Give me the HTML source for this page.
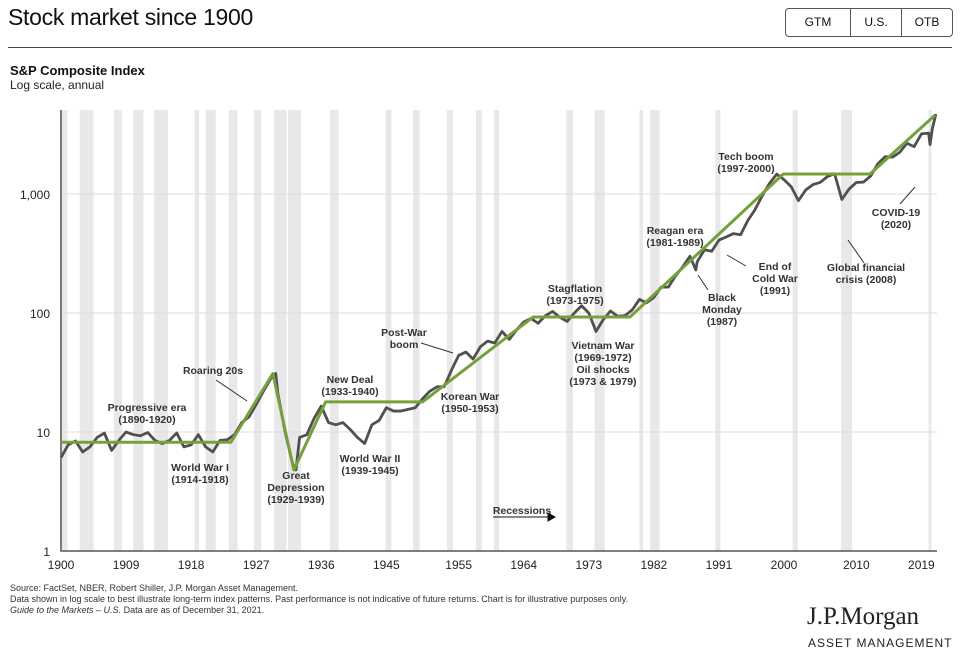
<!DOCTYPE html>
<html><head><meta charset="utf-8">
<style>
body{margin:0;background:#fff;font-family:"Liberation Sans",Arial,sans-serif;}
#wrap{position:relative;width:960px;height:662px;overflow:hidden;background:#fff}
.t{position:absolute;white-space:nowrap}
</style></head>
<body>
<div id="wrap">
<div class="t" style="left:8px;top:4px;font-size:23px;color:#111;letter-spacing:-0.3px">Stock market since 1900</div>
<div style="position:absolute;left:785px;top:8px;width:166px;height:27px;border:1px solid #555;border-radius:4px;display:flex;font-size:12px;color:#111">
<div style="width:64px;text-align:center;line-height:27px;border-right:1px solid #555">GTM</div>
<div style="width:50px;text-align:center;line-height:27px;border-right:1px solid #555">U.S.</div>
<div style="flex:1;text-align:center;line-height:27px">OTB</div>
</div>
<div style="position:absolute;left:8px;top:47px;width:944px;height:1px;background:#444"></div>
<div class="t" style="left:10px;top:63px;font-size:13px;font-weight:bold;color:#111">S&amp;P Composite Index</div>
<div class="t" style="left:10px;top:78px;font-size:12px;color:#222">Log scale, annual</div>
<svg id="chart" width="960" height="662" style="position:absolute;left:0;top:0" font-family="Liberation Sans, Arial, sans-serif"></svg>
<div class="t" style="left:10px;top:583px;font-size:9px;color:#333;line-height:11px">Source: FactSet, NBER, Robert Shiller, J.P. Morgan Asset Management.<br>Data shown in log scale to best illustrate long-term index patterns. Past performance is not indicative of future returns. Chart is for illustrative purposes only.<br><i>Guide to the Markets – U.S.</i> Data are as of December 31, 2021.</div>
<div class="t" style="left:807px;top:603px;font-family:'Liberation Serif',serif;font-size:25px;color:#222">J.P.Morgan</div>
<div class="t" style="left:808px;top:636px;font-size:12px;letter-spacing:1px;color:#222">ASSET MANAGEMENT</div>
</div>
<script>
const xTicks=[1900,1909,1918,1927,1936,1945,1955,1964,1973,1982,1991,2000,2010,2019];
const yTicks=[1,10,100,1000];
const yTickLabels=["1","10","100","1,000"];
const recessions=[[1899.9,1900.9],[1902.6,1904.5],[1907.3,1908.4],[1910,1911.4],[1912.9,1914.8],[1918.5,1919.1],[1920,1921.4],[1923.2,1924.4],[1926.7,1927.7],[1929.5,1931.2],[1931.4,1933.2],[1937.2,1938.4],[1944.9,1945.7],[1948.7,1949.6],[1953.4,1954.2],[1957.4,1958.2],[1959.9,1960.6],[1969.9,1970.8],[1973.8,1975.2],[1980,1980.5],[1981.5,1982.8],[1990.5,1991.2],[2001.2,2001.9],[2007.9,2009.4],[2020,2020.4]];
const years=[1900,1901,1902,1903,1904,1905,1906,1907,1908,1909,1910,1911,1912,1913,1914,1915,1916,1917,1918,1919,1920,1921,1922,1923,1924,1925,1926,1927,1928,1929,1929.7,1930,1931,1932,1932.5,1933,1934,1935,1936,1937,1938,1939,1940,1941,1942,1943,1944,1945,1946,1947,1948,1949,1950,1951,1952,1953,1954,1955,1956,1957,1958,1959,1960,1961,1962,1963,1964,1965,1966,1967,1968,1969,1970,1971,1972,1973,1974,1975,1976,1977,1978,1979,1980,1981,1982,1983,1984,1985,1986,1987,1987.8,1988,1989,1990,1991,1992,1993,1994,1995,1996,1997,1998,1999,2000,2001,2002,2003,2004,2005,2006,2007,2008,2009,2010,2011,2012,2013,2014,2015,2016,2017,2018,2019,2020,2020.2,2020.5,2021];
const values=[6.1,7.8,8.4,6.8,7.5,9.0,9.8,7.0,8.5,10.0,9.5,9.3,9.9,8.5,8.0,8.5,9.8,7.5,7.8,9.5,7.5,6.8,8.5,8.6,9.5,12.0,13.4,17,22,28,31,21,10,5.5,4.8,9,9.5,13,16.5,12,11.5,12,10.5,9.0,8.0,11.5,12.5,16,15,15,15.5,16,19,22,24,24,33,44,47,41,52,58,56,70,60,72,84,90,82,95,103,92,85,100,115,100,70,88,104,94,95,106,130,122,135,165,165,205,245,300,230,270,340,330,410,435,465,455,600,740,970,1230,1470,1320,1150,880,1080,1200,1250,1400,1480,900,1100,1250,1260,1420,1800,2060,2040,2240,2670,2500,3200,3250,2600,3500,4700];
const trendYears=[1900,1923.5,1929.3,1932.2,1936.6,1950,1965.3,1978.7,1999.9,2011.9,2020.9];
const trendValues=[8.2,8.2,31,4.8,17.9,17.9,92.5,92.5,1473,1473,4600];

const svg=document.getElementById('chart');
const NS='http://www.w3.org/2000/svg';
const X0=61,X1=937,Y0=551;
const xs=y=>X0+(y-1900)*7.23;
const ys=v=>Y0-Math.log10(v)*119;
function mk(tag,attrs,parent){const e=document.createElementNS(NS,tag);for(const k in attrs)e.setAttribute(k,attrs[k]);(parent||svg).appendChild(e);return e;}

recessions.forEach(r=>{
 const e=mk('rect',{x:xs(r[0]),y:110,width:xs(r[1])-xs(r[0]),height:Y0-110,fill:'#e8e8ea'});
 
 
});
yTicks.forEach((v,i)=>{
 if(v>1){const g=mk('line',{x1:X0,x2:X1,y1:ys(v),y2:ys(v),stroke:'#dcdcdc','stroke-width':1});
 
 }
 const t=mk('text',{x:50,y:ys(v)+5,'text-anchor':'end','font-size':12,fill:'#222'});
 t.textContent=yTickLabels[i];
 
 
});
xTicks.forEach(y=>{
 const t=mk('text',{x:xs(y),y:569,'text-anchor':'middle','font-size':12,fill:'#222'});
 t.textContent=y;
 
 
});
const ax=mk('path',{d:`M${X0},110V${Y0}H${X1}`,fill:'none',stroke:'#555','stroke-width':1.5});



const sp=mk('polyline',{points:years.map((y,i)=>xs(y)+','+ys(values[i])).join(' '),fill:'none',stroke:'#505050','stroke-width':2.8,'stroke-linejoin':'round'});


const tr=mk('polyline',{points:trendYears.map((y,i)=>xs(y)+','+ys(trendValues[i])).join(' '),fill:'none',stroke:'#76a03a','stroke-width':3,'stroke-linejoin':'round'});



const notes=[
 [147,411,['Progressive era','(1890-1920)']],[213,374,['Roaring 20s']],[200,471,['World War I','(1914-1918)']],
 [296,479,['Great','Depression','(1929-1939)']],[350,383,['New Deal','(1933-1940)']],[370,462,['World War II','(1939-1945)']],
 [404,336,['Post-War','boom']],[470,400,['Korean War','(1950-1953)']],[575,292,['Stagflation','(1973-1975)']],
 [603,349,['Vietnam War','(1969-1972)','Oil shocks','(1973 & 1979)']],[675,234,['Reagan era','(1981-1989)']],
 [722,301,['Black','Monday','(1987)']],[775,270,['End of','Cold War','(1991)']],[746,160,['Tech boom','(1997-2000)']],
 [866,271,['Global financial','crisis (2008)']],[896,216,['COVID-19','(2020)']],[522,514,['Recessions']]];
notes.forEach(n=>{
 const t=mk('text',{x:n[0],y:n[1],'text-anchor':'middle','font-size':10.5,'font-weight':'bold',fill:'#333'});
 n[2].forEach((s,i)=>{const ts=mk('tspan',{x:n[0],dy:i?12:0},t);ts.textContent=s;});
 
 
});
const leaders=[[216,380,247,401],[421,343,453,353],[698,275,708,290],[727,255,746,266],[848,240,864,263],[900,204,915,187]];
leaders.forEach(l=>{const e=mk('line',{x1:l[0],y1:l[1],x2:l[2],y2:l[3],stroke:'#333','stroke-width':1});
 
 });
const ar=mk('path',{d:'M493,517H550M548,513L555,517L548,521Z',stroke:'#111','stroke-width':1,fill:'#111'});


</script>
</body></html>
